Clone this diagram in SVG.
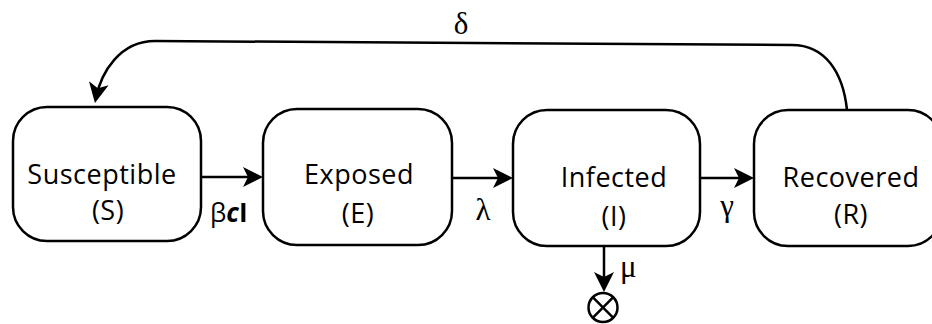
<svg xmlns="http://www.w3.org/2000/svg" width="932" height="324" viewBox="0 0 932 324">
<style>
.box{fill:#fff;stroke:#000;stroke-width:2.5}
.lbl{font-family:"Open Sans","Noto Sans",sans-serif;font-size:27px;letter-spacing:0.5px;fill:#000;text-anchor:middle}
.gr{font-family:"Liberation Serif","Times New Roman",serif;font-size:31px;fill:#000}
.edge{fill:none;stroke:#000;stroke-width:2.5}
</style>
<defs>
<marker id="arr" markerUnits="userSpaceOnUse" markerWidth="22" markerHeight="22" viewBox="0 0 22 22" refX="16" refY="11" orient="auto">
<path d="M0,1 L20,11 L0,21 L5,11 Z" fill="#000"/>
</marker>
</defs>
<rect width="932" height="324" fill="#fff"/>
<g id="connectors">
<path class="edge" d="M201,177 L259,177" marker-end="url(#arr)"/>
<path class="edge" d="M452,178 L509,178" marker-end="url(#arr)"/>
<path class="edge" d="M700,178 L750,178" marker-end="url(#arr)"/>
<path class="edge" d="M604,246 L604,288" marker-end="url(#arr)"/>
<path class="edge" d="M847,110 C843,72 825,45 792,45 L155,41 C120,41 101,72 95.7,99" marker-end="url(#arr)"/>
<text class="gr" x="461" y="34" text-anchor="middle">δ</text>
<text x="210" y="222" font-family="'Open Sans','Noto Sans',sans-serif" font-size="26">β<tspan font-weight="bold" font-style="italic">c</tspan><tspan font-weight="bold">I</tspan></text>
<text class="gr" x="483" y="220" text-anchor="middle">λ</text>
<text class="gr" x="727" y="216" text-anchor="middle">γ</text>
<text class="gr" x="620" y="277">μ</text>
</g>
<g id="sink">
<circle cx="603" cy="307.5" r="14.5" fill="#fff" stroke="#000" stroke-width="2.5"/>
<path d="M592.7,297.2 L613.3,317.8 M613.3,297.2 L592.7,317.8" stroke="#000" stroke-width="2.5"/>
</g>
<g id="susceptible">
<rect class="box" x="13" y="107" width="188" height="134" rx="34" ry="34"/>
<text class="lbl" x="102" y="184">Susceptible</text>
<text class="lbl" x="108" y="220">(S)</text>
</g>
<g id="exposed">
<rect class="box" x="263" y="109" width="189" height="136" rx="34" ry="34"/>
<text class="lbl" x="359" y="184">Exposed</text>
<text class="lbl" x="358" y="223">(E)</text>
</g>
<g id="infected">
<rect class="box" x="513" y="110" width="187" height="136" rx="34" ry="34"/>
<text class="lbl" x="614" y="187">Infected</text>
<text class="lbl" x="614" y="226">(I)</text>
</g>
<g id="recovered">
<rect class="box" x="754" y="110" width="188" height="136" rx="34" ry="34"/>
<text class="lbl" x="851" y="187">Recovered</text>
<text class="lbl" x="851" y="224">(R)</text>
</g>
</svg>
